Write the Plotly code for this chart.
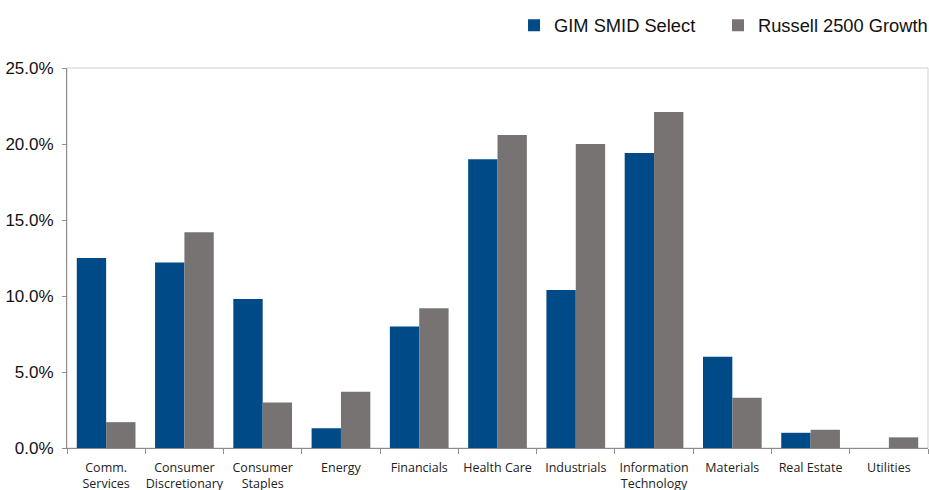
import plotly.graph_objects as go

categories = ["Comm.<br>Services", "Consumer<br>Discretionary", "Consumer<br>Staples", "Energy",
              "Financials", "Health Care", "Industrials", "Information<br>Technology",
              "Materials", "Real Estate", "Utilities"]
gim_values = [12.5, 12.2, 9.8, 1.3, 8.0, 19.0, 10.4, 19.4, 6.0, 1.0, 0.0]
russell_values = [1.7, 14.2, 3.0, 3.7, 9.2, 20.6, 20.0, 22.1, 3.3, 1.2, 0.7]
series_names = ["GIM SMID Select", "Russell 2500 Growth"]
y_ticks = [0, 5, 10, 15, 20, 25]
y_tick_text = [f"{v:.1f}%" for v in y_ticks]

BLUE = "#004A87"
GRAY = "#777372"

fig = go.Figure()
fig.add_trace(go.Bar(x=categories, y=gim_values, name=series_names[0], legend="legend",
                     marker=dict(color=BLUE, line=dict(width=0))))
fig.add_trace(go.Bar(x=categories, y=russell_values, name=series_names[1], legend="legend2",
                     marker=dict(color=GRAY, line=dict(width=0))))

legend_font = dict(family="Liberation Sans, Arial", size=18.3, color="#111111")
fig.update_layout(
    width=929, height=490,
    margin=dict(l=67, r=1, t=68, b=42, autoexpand=False),
    paper_bgcolor="white", plot_bgcolor="white",
    barmode="group", bargap=0.25, bargroupgap=0,
    showlegend=True,
    legend=dict(orientation="h", x=0.5192, xanchor="left", y=0.986, yref="container",
                yanchor="top", font=legend_font, itemwidth=30, bgcolor="rgba(0,0,0,0)"),
    legend2=dict(orientation="h", x=0.7561, xanchor="left", y=0.986, yref="container",
                 yanchor="top", font=legend_font, itemwidth=30, bgcolor="rgba(0,0,0,0)"),
    font=dict(family="Liberation Sans, Arial"),
    shapes=[dict(type="rect", xref="paper", yref="paper", x0=0, x1=1, y0=0, y1=1,
                 line=dict(color="#D0D0D0", width=1), layer="below")],
)
fig.update_xaxes(
    type="category", tickson="boundaries", ticks="outside", ticklen=5,
    tickcolor="#8C8C8C", showline=True, linecolor="#8C8C8C", linewidth=1,
    showgrid=False, tickangle=0, automargin=False, ticklabelstandoff=8,
    tickfont=dict(family="Open Sans, Liberation Sans", size=12.5, color="#222222"),
)
fig.update_yaxes(
    range=[0, 25], tickvals=y_ticks, ticktext=y_tick_text,
    ticks="outside", ticklen=4, tickcolor="#8C8C8C", automargin=False,
    ticklabelstandoff=5,
    showline=True, linecolor="#8C8C8C", linewidth=1, showgrid=False, zeroline=False,
    tickfont=dict(family="Liberation Sans, Arial", size=17, color="#111111"),
)

fig.write_html("out.html", config={"displayModeBar": False},
               post_script="document.body.style.margin='0px';document.body.style.overflow='hidden';")
